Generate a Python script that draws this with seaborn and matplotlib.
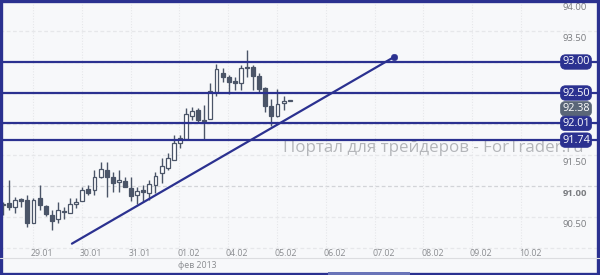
import numpy as np
import pandas as pd
import matplotlib
matplotlib.use("Agg")
import matplotlib.pyplot as plt
from matplotlib.patches import Rectangle
import seaborn as sns

# ---------------- data ----------------
opens  = [90.69, 90.73, 90.66, 90.79, 90.77, 90.40, 90.81, 90.68, 90.53, 90.47,
          90.60, 90.56, 90.71, 90.76, 90.95, 90.94, 91.15, 91.26, 91.15, 91.06,
          91.08, 90.97, 90.85, 90.94, 90.89, 91.02, 91.21, 91.29, 91.42, 91.69,
          91.76, 92.13, 92.23, 92.06, 92.08, 92.52, 92.82, 92.76, 92.69, 92.66,
          92.92, 92.92, 92.77, 92.58, 92.29, 92.13, 92.34, 92.37]
highs  = [90.74, 91.10, 90.82, 90.81, 90.85, 90.81, 91.02, 90.69, 90.61, 90.74,
          90.66, 90.81, 90.81, 90.98, 91.02, 91.26, 91.39, 91.39, 91.23, 91.26,
          91.15, 91.15, 90.98, 91.02, 91.10, 91.23, 91.45, 91.53, 91.82, 91.82,
          92.26, 92.27, 92.26, 92.31, 92.66, 92.97, 92.90, 92.79, 92.76, 92.95,
          93.19, 92.95, 92.82, 92.60, 92.40, 92.56, 92.45, 92.38]
lows   = [90.53, 90.61, 90.56, 90.66, 90.34, 90.40, 90.61, 90.52, 90.29, 90.40,
          90.47, 90.56, 90.65, 90.76, 90.86, 90.86, 91.13, 90.82, 90.90, 90.90,
          90.98, 90.76, 90.71, 90.74, 90.77, 90.89, 91.05, 91.26, 91.42, 91.61,
          91.76, 92.06, 92.03, 91.76, 92.08, 92.45, 92.68, 92.48, 92.55, 92.55,
          92.76, 92.55, 92.50, 92.19, 91.97, 92.11, 92.23, 92.37]
closes = [90.70, 90.66, 90.77, 90.76, 90.40, 90.77, 90.69, 90.55, 90.44, 90.61,
          90.58, 90.71, 90.74, 90.94, 90.89, 91.15, 91.27, 91.15, 91.05, 91.10,
          90.98, 90.84, 90.92, 90.90, 91.03, 91.16, 91.32, 91.45, 91.69, 91.77,
          92.16, 92.21, 92.06, 92.05, 92.53, 92.89, 92.76, 92.68, 92.66, 92.90,
          92.90, 92.77, 92.56, 92.29, 92.13, 92.32, 92.37, 92.38]

levels = [93.00, 92.50, 92.01, 91.74]
level_labels = ["93.00", "92.50", "92.01", "91.74"]
last_price = 92.38
last_label = "92.38"

trend_idx = [11.3, 64.1]
trend_price = [90.07, 93.08]

day_labels = ["28.01", "29.01", "30.01", "31.01", "01.02", "04.02", "05.02",
              "06.02", "07.02", "08.02", "09.02", "10.02"]
bars_per_day = 8
first_day_pos = -1.6

# visible price-scale labels (the others sit under the level boxes)
price_ticks = [94.0, 93.5, 91.5, 91.0, 90.5]
price_tick_labels = ["94.00", "93.50", "91.50", "91.00", "90.50"]
grid_prices = [90.0, 90.5, 91.0, 91.5, 92.0, 92.5, 93.0, 93.5, 94.0]

month_label = "фев 2013"
watermark = "Портал для трейдеров - ForTrader.ru"

# ---------------- style ----------------
sns.set_style("white")
plt.rcParams["font.family"] = ["Open Sans", "DejaVu Sans"]

NAVY = "#2b3190"
CANDLE = "#4b5568"
BG = "#f7f8fa"

df = pd.DataFrame({"o": opens, "h": highs, "l": lows, "c": closes})
df["i"] = np.arange(len(df))
df["up"] = df["c"] >= df["o"]

fig = plt.figure(figsize=(6.0, 2.75), dpi=100)
fig.patch.set_facecolor(BG)
ax = fig.add_axes([0, 17 / 275, 1, 258 / 275])
ax.set_facecolor(BG)
ax.set_xlim(-0.49, 97.87)
ax.set_ylim(93 - 196 / 62, 94.0)
for s in ax.spines.values():
    s.set_visible(False)

# grid
for p in grid_prices:
    col = "#d2d4d8" if abs(p - 91.0) < 1e-6 else "#e6e7ea"
    ax.axhline(p, color=col, lw=0.9, ls=(0, (3, 2)), zorder=0)
n_days = len(day_labels)
day_pos = [first_day_pos + bars_per_day * k for k in range(n_days)]
for dp in day_pos:
    ax.axvline(dp - 1.48, color="#e6e7ea", lw=0.8, ls=(0, (1, 1.5)), zorder=0)

# watermark
ax.text(283 / 600, 1 - 148 / 258, watermark, transform=ax.transAxes, ha="left",
        va="center", fontsize=12.2, color="#b4b6ba", zorder=1)

# candles
ax.vlines(df["i"], df["l"], df["h"], color=CANDLE, lw=1.0, zorder=3)
body_lo = np.minimum(df["o"], df["c"])
body_h = np.maximum(np.abs(df["c"] - df["o"]), 0.014)
ax.bar(df["i"], body_h, bottom=body_lo, width=0.64,
       color=np.where(df["up"], "white", CANDLE), edgecolor=CANDLE,
       linewidth=0.9, zorder=4)

# horizontal levels
for lv in levels:
    ax.axhline(lv, color=NAVY, lw=1.6, zorder=5)

# trend line
tdf = pd.DataFrame({"x": trend_idx, "y": trend_price})
sns.lineplot(data=tdf, x="x", y="y", ax=ax, color=NAVY, lw=1.6, zorder=6)
sns.scatterplot(data=tdf.iloc[[-1]], x="x", y="y", ax=ax, color=NAVY, s=22,
                edgecolor=NAVY, zorder=7)
ax.set_xlabel("")
ax.set_ylabel("")
ax.set_xticks([])
ax.set_yticks([])

# price scale labels
for p, lab in zip(price_ticks, price_tick_labels):
    ax.annotate(lab, xy=(0.958, p), xycoords=("axes fraction", "data"),
                xytext=(0, -2.5), textcoords="offset points", ha="center", va="top",
                fontsize=6.8, color="#7a7c80",
                fontweight="bold" if abs(p - 91.0) < 1e-6 else "normal", zorder=8)

# level boxes
box_kw = dict(boxstyle="round,pad=0.16,rounding_size=0.45", lw=0.5)
for lv, lab in zip(levels, level_labels):
    ax.annotate(lab, xy=(0.96, lv), xycoords=("axes fraction", "data"),
                ha="center", va="center", fontsize=7.8, color="white", zorder=10,
                bbox=dict(fc=NAVY, ec=NAVY, **box_kw))
# last-price box is pushed down so it does not collide with the 92.50 box
ax.annotate(last_label, xy=(0.96, last_price), xycoords=("axes fraction", "data"),
            xytext=(0, -6.0), textcoords="offset points",
            ha="center", va="center", fontsize=7.8, color="white", zorder=9,
            bbox=dict(fc="#5a6678", ec="#5a6678", **box_kw))

# date labels
for dp, lab in zip(day_pos, day_labels):
    ax.annotate(lab, xy=(dp, 0), xycoords=("data", "axes fraction"),
                xytext=(0, 3.6), textcoords="offset points",
                ha="center", va="center", fontsize=6.3, color="#8a8c90",
                annotation_clip=False, clip_on=True)
fig.text(197 / 600, 1 - 265 / 275, month_label, ha="center", va="center",
         fontsize=6.3, color="#8a8c90")

# separator line and frame
fig.add_artist(plt.Line2D([0, 1], [17 / 275, 17 / 275], color="#dcdde0", lw=0.8))
fig.add_artist(Rectangle((0.002, 0.004), 0.995, 0.991, transform=fig.transFigure,
                         fill=False, ec=NAVY, lw=2.4))
fig.add_artist(Rectangle((328 / 600, 0), 82 / 600, 3 / 275, transform=fig.transFigure,
                         fc="#6a74b8", ec="none"))

fig.savefig("out.png", dpi=100, facecolor=BG)
